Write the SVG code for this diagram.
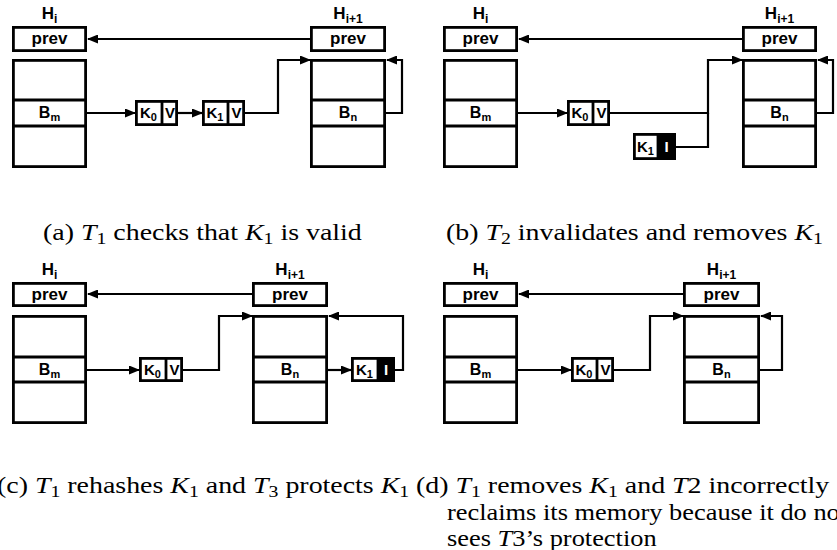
<svg xmlns="http://www.w3.org/2000/svg" width="837" height="550" viewBox="0 0 837 550">
<style>
.box{fill:#fff;stroke:#000;stroke-width:2.8}
.blk{fill:#000;stroke:#000;stroke-width:2.8}
.dv{stroke:#000;stroke-width:2.8}
.lbl{font-family:"Liberation Sans",Arial,sans-serif;font-weight:bold;fill:#000;text-anchor:middle}
.wt{fill:#fff}
.hd{font-size:17px}
.pv{font-size:17px}
.bk{font-size:16px}
.kv{font-size:15px}
.sub{font-size:11px}
.hd .sub{font-size:12px}
.conn path{fill:none;stroke:#000;stroke-width:2.2}
.cap{font-family:"Liberation Serif","Times New Roman",serif;font-size:24px;fill:#000}
.it{font-style:italic}
.cs{font-size:17px}
</style>
<defs>
<marker id="ah" markerWidth="11" markerHeight="9" refX="10" refY="4.5" orient="auto" markerUnits="userSpaceOnUse">
<path d="M0,0 L11,4.5 L0,9 z" fill="#000"/>
</marker>
</defs>

<!-- Panel (a) -->
<g id="a-Hi">
<text class="lbl hd" x="49.5" y="19">H<tspan class="sub" dy="4">i</tspan></text>
<rect class="box" x="13.4" y="27.4" width="72.2" height="23.2"/>
<text class="lbl pv" x="49.5" y="44">prev</text>
<rect class="box" x="13.4" y="60.4" width="72.2" height="106.2"/>
<line class="dv" x1="13.4" y1="100" x2="85.6" y2="100"/>
<line class="dv" x1="13.4" y1="126" x2="85.6" y2="126"/>
<text class="lbl bk" x="49.5" y="118">B<tspan class="sub" dy="3">m</tspan></text>
</g>
<g id="a-Hi1">
<text class="lbl hd" x="348" y="19">H<tspan class="sub" dy="4">i+1</tspan></text>
<rect class="box" x="311.4" y="27.4" width="73.2" height="23.2"/>
<text class="lbl pv" x="348" y="44">prev</text>
<rect class="box" x="311.4" y="60.4" width="73.2" height="106.2"/>
<line class="dv" x1="311.4" y1="100" x2="384.6" y2="100"/>
<line class="dv" x1="311.4" y1="126" x2="384.6" y2="126"/>
<text class="lbl bk" x="348" y="118">B<tspan class="sub" dy="3">n</tspan></text>
</g>
<g id="a-K0">
<rect class="box" x="136.4" y="101.4" width="40.2" height="23.2"/>
<line class="dv" x1="162" y1="101.4" x2="162" y2="124.6"/>
<text class="lbl kv" x="148.5" y="118">K<tspan class="sub" dy="3">0</tspan></text>
<text class="lbl kv" x="170" y="118">V</text>
</g>
<g id="a-K1">
<rect class="box" x="203.4" y="101.4" width="40.2" height="23.2"/>
<line class="dv" x1="228" y1="101.4" x2="228" y2="124.6"/>
<text class="lbl kv" x="215" y="118">K<tspan class="sub" dy="3">1</tspan></text>
<text class="lbl kv" x="236.5" y="118">V</text>
</g>

<!-- Panel (b) -->
<g id="b-Hi">
<text class="lbl hd" x="480.5" y="19">H<tspan class="sub" dy="4">i</tspan></text>
<rect class="box" x="444.4" y="27.4" width="72.2" height="23.2"/>
<text class="lbl pv" x="480.5" y="44">prev</text>
<rect class="box" x="444.4" y="60.4" width="72.2" height="106.2"/>
<line class="dv" x1="444.4" y1="100" x2="516.6" y2="100"/>
<line class="dv" x1="444.4" y1="126" x2="516.6" y2="126"/>
<text class="lbl bk" x="480.5" y="118">B<tspan class="sub" dy="3">m</tspan></text>
</g>
<g id="b-Hi1">
<text class="lbl hd" x="779.5" y="19">H<tspan class="sub" dy="4">i+1</tspan></text>
<rect class="box" x="743.4" y="27.4" width="72.2" height="23.2"/>
<text class="lbl pv" x="779.5" y="44">prev</text>
<rect class="box" x="743.4" y="60.4" width="72.2" height="106.2"/>
<line class="dv" x1="743.4" y1="100" x2="815.6" y2="100"/>
<line class="dv" x1="743.4" y1="126" x2="815.6" y2="126"/>
<text class="lbl bk" x="779.5" y="118">B<tspan class="sub" dy="3">n</tspan></text>
</g>
<g id="b-K0">
<rect class="box" x="568.4" y="101.4" width="40.2" height="23.2"/>
<line class="dv" x1="593" y1="101.4" x2="593" y2="124.6"/>
<text class="lbl kv" x="580" y="118">K<tspan class="sub" dy="3">0</tspan></text>
<text class="lbl kv" x="601.5" y="118">V</text>
</g>
<g id="b-K1">
<rect class="box" x="634.4" y="134.4" width="40.2" height="24.2"/>
<rect class="blk" x="658" y="134.4" width="16.6" height="24.2"/>
<text class="lbl kv" x="645.5" y="152">K<tspan class="sub" dy="3">1</tspan></text>
<text class="lbl kv wt" x="666.5" y="152">I</text>
</g>

<!-- Panel (c) -->
<g id="c-Hi">
<text class="lbl hd" x="49.5" y="275">H<tspan class="sub" dy="4">i</tspan></text>
<rect class="box" x="13.4" y="283.4" width="72.2" height="22.2"/>
<text class="lbl pv" x="49.5" y="299.5">prev</text>
<rect class="box" x="13.4" y="316.4" width="72.2" height="106.2"/>
<line class="dv" x1="13.4" y1="357" x2="85.6" y2="357"/>
<line class="dv" x1="13.4" y1="382" x2="85.6" y2="382"/>
<text class="lbl bk" x="49.5" y="374.5">B<tspan class="sub" dy="3">m</tspan></text>
</g>
<g id="c-Hi1">
<text class="lbl hd" x="290" y="275">H<tspan class="sub" dy="4">i+1</tspan></text>
<rect class="box" x="253.4" y="283.4" width="73.2" height="22.2"/>
<text class="lbl pv" x="290" y="299.5">prev</text>
<rect class="box" x="253.4" y="316.4" width="73.2" height="106.2"/>
<line class="dv" x1="253.4" y1="357" x2="326.6" y2="357"/>
<line class="dv" x1="253.4" y1="382" x2="326.6" y2="382"/>
<text class="lbl bk" x="290" y="374.5">B<tspan class="sub" dy="3">n</tspan></text>
</g>
<g id="c-K0">
<rect class="box" x="140.4" y="358.4" width="41.2" height="22.2"/>
<line class="dv" x1="166" y1="358.4" x2="166" y2="380.6"/>
<text class="lbl kv" x="152.5" y="374.5">K<tspan class="sub" dy="3">0</tspan></text>
<text class="lbl kv" x="174.5" y="374.5">V</text>
</g>
<g id="c-K1">
<rect class="box" x="352.4" y="358.4" width="41.2" height="22.2"/>
<rect class="blk" x="378" y="358.4" width="15.6" height="22.2"/>
<text class="lbl kv" x="364.5" y="374.5">K<tspan class="sub" dy="3">1</tspan></text>
<text class="lbl kv wt" x="386" y="374.5">I</text>
</g>

<!-- Panel (d) -->
<g id="d-Hi">
<text class="lbl hd" x="480.5" y="275">H<tspan class="sub" dy="4">i</tspan></text>
<rect class="box" x="444.4" y="283.4" width="72.2" height="22.2"/>
<text class="lbl pv" x="480.5" y="299.5">prev</text>
<rect class="box" x="444.4" y="316.4" width="72.2" height="106.2"/>
<line class="dv" x1="444.4" y1="357" x2="516.6" y2="357"/>
<line class="dv" x1="444.4" y1="382" x2="516.6" y2="382"/>
<text class="lbl bk" x="480.5" y="374.5">B<tspan class="sub" dy="3">m</tspan></text>
</g>
<g id="d-Hi1">
<text class="lbl hd" x="721.5" y="275">H<tspan class="sub" dy="4">i+1</tspan></text>
<rect class="box" x="684.4" y="283.4" width="74.2" height="22.2"/>
<text class="lbl pv" x="721.5" y="299.5">prev</text>
<rect class="box" x="684.4" y="316.4" width="74.2" height="106.2"/>
<line class="dv" x1="684.4" y1="357" x2="758.6" y2="357"/>
<line class="dv" x1="684.4" y1="382" x2="758.6" y2="382"/>
<text class="lbl bk" x="721.5" y="374.5">B<tspan class="sub" dy="3">n</tspan></text>
</g>
<g id="d-K0">
<rect class="box" x="572.4" y="358.4" width="40.2" height="22.2"/>
<line class="dv" x1="597" y1="358.4" x2="597" y2="380.6"/>
<text class="lbl kv" x="584" y="374.5">K<tspan class="sub" dy="3">0</tspan></text>
<text class="lbl kv" x="605.5" y="374.5">V</text>
</g>

<!-- Connectors -->
<g id="connectors" class="conn">
<path d="M310,39 H88" marker-end="url(#ah)"/>
<path d="M87,113 H135" marker-end="url(#ah)"/>
<path d="M178,113 H202" marker-end="url(#ah)"/>
<path d="M245,113 H278 V60 H310" marker-end="url(#ah)"/>
<path d="M386,113 H402 V60 H387" marker-end="url(#ah)"/>

<path d="M742,39 H519" marker-end="url(#ah)"/>
<path d="M518,113 H567" marker-end="url(#ah)"/>
<path d="M610,113 H708 V60 H742" marker-end="url(#ah)"/>
<path d="M676,147 H708 V113"/>
<path d="M817,113 H833 V60 H818" marker-end="url(#ah)"/>

<path d="M252,294 H88" marker-end="url(#ah)"/>
<path d="M87,370 H139" marker-end="url(#ah)"/>
<path d="M183,370 H219 V316 H252" marker-end="url(#ah)"/>
<path d="M328,370 H351" marker-end="url(#ah)"/>
<path d="M395,370 H403 V316 H329" marker-end="url(#ah)"/>

<path d="M683,294 H519" marker-end="url(#ah)"/>
<path d="M518,370 H571" marker-end="url(#ah)"/>
<path d="M614,370 H650 V316 H683" marker-end="url(#ah)"/>
<path d="M760,370 H782 V316 H761" marker-end="url(#ah)"/>
</g>

<!-- Captions -->
<g id="captions">
<text class="cap" transform="translate(43,240) scale(1.1625,1)">(a) <tspan class="it">T</tspan><tspan class="cs" dy="4">1</tspan><tspan dy="-4"> checks that </tspan><tspan class="it">K</tspan><tspan class="cs" dy="4">1</tspan><tspan dy="-4"> is valid</tspan></text>
<text class="cap" transform="translate(446,240) scale(1.1625,1)">(b) <tspan class="it">T</tspan><tspan class="cs" dy="4">2</tspan><tspan dy="-4"> invalidates and removes </tspan><tspan class="it">K</tspan><tspan class="cs" dy="4">1</tspan></text>
<text class="cap" transform="translate(-3,493) scale(1.1625,1)">(c) <tspan class="it">T</tspan><tspan class="cs" dy="4">1</tspan><tspan dy="-4"> rehashes </tspan><tspan class="it">K</tspan><tspan class="cs" dy="4">1</tspan><tspan dy="-4"> and </tspan><tspan class="it">T</tspan><tspan class="cs" dy="4">3</tspan><tspan dy="-4"> protects </tspan><tspan class="it">K</tspan><tspan class="cs" dy="4">1</tspan></text>
<text class="cap" transform="translate(416,493) scale(1.1625,1)">(d) <tspan class="it">T</tspan><tspan class="cs" dy="4">1</tspan><tspan dy="-4"> removes </tspan><tspan class="it">K</tspan><tspan class="cs" dy="4">1</tspan><tspan dy="-4"> and </tspan><tspan class="it">T</tspan>2 incorrectly</text>
<text class="cap" transform="translate(447,520) scale(1.1,1)">reclaims its memory because it do not</text>
<text class="cap" transform="translate(447,546) scale(1.1,1)">sees <tspan class="it">T</tspan>3’s protection</text>
</g>
</svg>
